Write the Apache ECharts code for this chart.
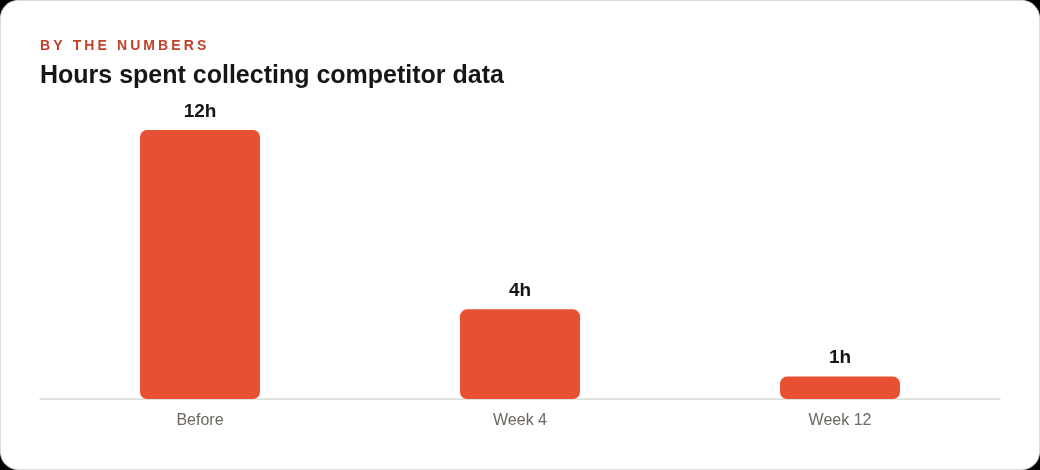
<!DOCTYPE html>
<html>
<head>
<meta charset="utf-8">
<script src="https://cdn.jsdelivr.net/npm/echarts@6/dist/echarts.min.js"></script>
<style>
html,body{margin:0;padding:0;background:#000;width:1040px;height:470px;overflow:hidden;}
#card{position:absolute;left:0;top:0;width:1038px;height:468px;background:#fff;border:1px solid #dcdcdc;border-radius:18px;overflow:hidden;}
#chart{width:1038px;height:468px;}
</style>
</head>
<body>
<div id="card"><div id="chart"></div></div>
<script>
const categories = ['Before', 'Week 4', 'Week 12'];
const hours = [12, 4, 1];
const valueLabels = ['12h', '4h', '1h'];
const eyebrow = 'BY THE NUMBERS';
const titleText = 'Hours spent collecting competitor data';

const FONT = '"Liberation Sans", Arial, Helvetica, sans-serif';

// letter-spaced eyebrow built from per-character text elements
const cv = document.createElement('canvas').getContext('2d');
cv.font = 'bold 14px ' + FONT;
const spacing = 3.1;
const eyebrowEls = [];
let xPos = 39;
for (const ch of eyebrow) {
  eyebrowEls.push({
    type: 'text', left: xPos, top: 38,
    style: { text: ch, fill: '#c2412b', font: 'bold 14px ' + FONT }
  });
  xPos += cv.measureText(ch).width + spacing;
}

const chart = echarts.init(document.getElementById('chart'));
chart.setOption({
  animation: false,
  graphic: eyebrowEls.concat([{
    type: 'text', left: 39, top: 63,
    style: { text: titleText, fill: '#161616', font: 'bold 25px ' + FONT }
  }]),
  grid: { left: 39, right: 39, top: 129, bottom: 70 },
  xAxis: {
    type: 'category',
    data: categories,
    axisLine: { lineStyle: { color: '#d9d6d1', width: 1.5 } },
    axisTick: { show: false },
    axisLabel: { color: '#6b6661', fontSize: 16, fontFamily: FONT, margin: 14 }
  },
  yAxis: {
    type: 'value', min: 0, max: 12,
    show: false,
    splitLine: { show: false }
  },
  series: [{
    type: 'bar',
    data: hours,
    barWidth: 120,
    itemStyle: { color: '#e85034', borderRadius: 7 },
    label: {
      show: true, position: 'top', distance: 9,
      formatter: p => valueLabels[p.dataIndex],
      color: '#161616', fontSize: 19, fontWeight: 'bold', fontFamily: FONT
    }
  }]
});
</script>
</body>
</html>
